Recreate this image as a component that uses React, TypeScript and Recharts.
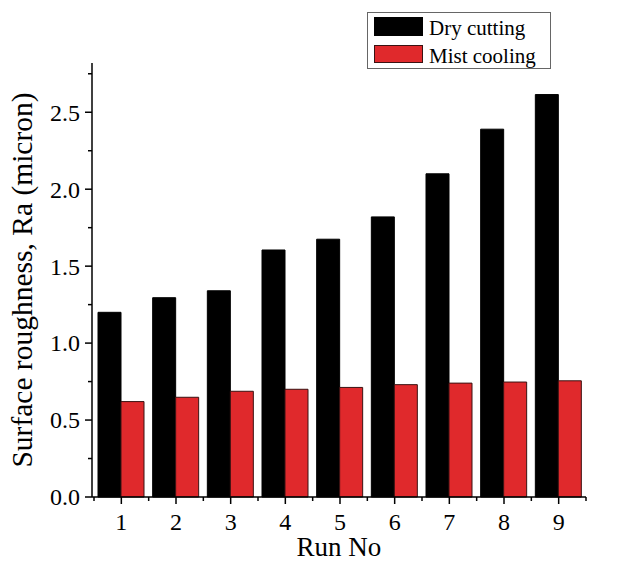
import React from 'react';
import { BarChart, Bar, XAxis, YAxis, Legend } from 'recharts';

const runs = ['1', '2', '3', '4', '5', '6', '7', '8', '9'];
const dryCutting = [1.2, 1.295, 1.34, 1.605, 1.675, 1.82, 2.1, 2.39, 2.615];
const mistCooling = [0.62, 0.648, 0.687, 0.7, 0.712, 0.73, 0.74, 0.747, 0.755];
const yTicks = [0, 0.25, 0.5, 0.75, 1.0, 1.25, 1.5, 1.75, 2.0, 2.25, 2.5, 2.75];
const seriesNames = ['Dry cutting', 'Mist cooling'];

const data = runs.map((r, i) => ({ run: r, dry: dryCutting[i], mist: mistCooling[i] }));

const FONT = '"Liberation Serif", "Times New Roman", serif';
const RED = '#E0292C';

const YTick = (props: any) => {
  const { x, y, payload } = props;
  const v = payload.value as number;
  const major = Math.abs(v * 2 - Math.round(v * 2)) < 1e-6;
  return (
    <g>
      <line x1={x - (major ? 7 : 4)} x2={x} y1={y} y2={y} stroke="#000" strokeWidth={1.5} />
      {major && (
        <text x={x - 12} y={y} dy="0.35em" textAnchor="end" fontFamily={FONT} fontSize={24} fill="#000">
          {v.toFixed(1)}
        </text>
      )}
    </g>
  );
};

const XTick = (props: any) => {
  const { x, y, payload, index } = props;
  const half = payload.offset ?? 27.3;
  return (
    <g>
      <line x1={x} x2={x} y1={y} y2={y + 7} stroke="#000" strokeWidth={1.5} />
      <line x1={x + half} x2={x + half} y1={y} y2={y + 4} stroke="#000" strokeWidth={1.5} />
      {index === 0 && <line x1={x - half} x2={x - half} y1={y} y2={y + 4} stroke="#000" strokeWidth={1.5} />}
      <text x={x} y={y + 33} textAnchor="middle" fontFamily={FONT} fontSize={24} fill="#000">
        {payload.value}
      </text>
    </g>
  );
};

const LegendBox = () => (
  <svg width={185} height={58} style={{ display: 'block' }}>
    <rect x={0.5} y={0.5} width={183} height={56} fill="#fff" stroke="#666" strokeWidth={1} />
    <rect x={7.5} y={5.5} width={48} height={18} fill="#000" stroke="#000" strokeWidth={1} />
    <rect x={7.5} y={33.5} width={48} height={17} fill={RED} stroke="#3a1212" strokeWidth={1} />
    <text x={62} y={23} fontFamily={FONT} fontSize={21} fill="#000">{seriesNames[0]}</text>
    <text x={62} y={50.5} fontFamily={FONT} fontSize={21} fill="#000">{seriesNames[1]}</text>
  </svg>
);

const YTitle = (props: any) => {
  const { viewBox } = props;
  const cx = 22;
  const cy = viewBox.y + viewBox.height / 2;
  return (
    <text x={cx} y={cy} transform={`rotate(-90, ${cx}, ${cy})`} textAnchor="middle" dominantBaseline="central" fontFamily={FONT} fontSize={29.5} fill="#000">
      Surface roughness, Ra (micron)
    </text>
  );
};

const XTitle = (props: any) => {
  const { viewBox } = props;
  const cx = viewBox.x + viewBox.width / 2;
  return (
    <text x={cx} y={556} textAnchor="middle" fontFamily={FONT} fontSize={27} fill="#000">
      Run No
    </text>
  );
};

export default function App() {
  return (
    <div style={{ position: 'absolute', left: 0, top: 0, width: 625, height: 561, overflow: 'hidden', background: '#fff' }}>
      <BarChart
        width={625}
        height={561}
        data={data}
        margin={{ top: 63, right: 39, bottom: 0, left: 0 }}
        barGap={0}
        barSize={23}
      >
        <XAxis
          dataKey="run"
          height={64}
          padding={{ left: 2, right: 0 }}
          axisLine={{ stroke: '#000', strokeWidth: 1.5 }}
          tickLine={false}
          tickSize={0}
          tickMargin={0}
          tick={<XTick />}
          interval={0}
          label={<XTitle />}
        />
        <YAxis
          type="number"
          domain={[0, 2.82]}
          ticks={yTicks}
          width={92}
          axisLine={{ stroke: '#000', strokeWidth: 1.5 }}
          tickLine={false}
          tickSize={0}
          tickMargin={0}
          tick={<YTick />}
          interval={0}
          label={<YTitle />}
        />
        <Legend
          layout="vertical"
          align="center"
          verticalAlign="middle"
          content={<LegendBox />}
          wrapperStyle={{ position: 'absolute', left: 367, top: 12, width: 185, height: 58 }}
        />
        <Bar dataKey="dry" name={seriesNames[0]} fill="#000" stroke="#000" strokeWidth={1} isAnimationActive={false} />
        <Bar dataKey="mist" name={seriesNames[1]} fill={RED} stroke="#3a1212" strokeWidth={1} isAnimationActive={false} />
      </BarChart>
    </div>
  );
}
